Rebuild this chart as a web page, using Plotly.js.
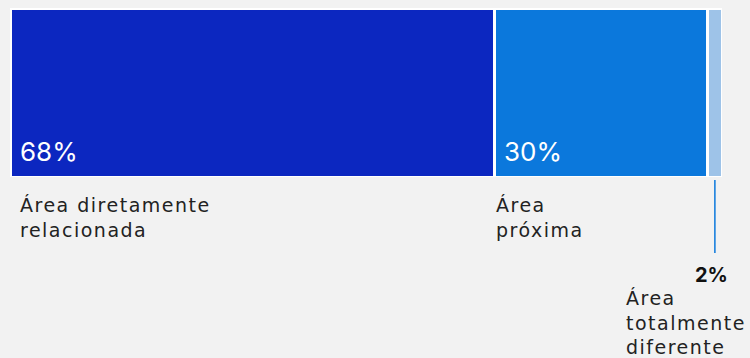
<!DOCTYPE html>
<html>
<head>
<meta charset="utf-8">
<script src="https://cdn.plot.ly/plotly-3.0.1.min.js"></script>
<style>
  html, body { margin: 0; padding: 0; background: #f2f2f2; }
  #chart { width: 750px; height: 358px; }
</style>
</head>
<body>
<div id="chart"></div>
<script>
const categories = ["Área diretamente relacionada", "Área próxima", "Área totalmente diferente"];
const labelLines = [["Área diretamente", "relacionada"], ["Área", "próxima"], ["Área", "totalmente", "diferente"]];
const values = [68, 30, 2];
const pctLabels = ["68%", "30%", "2%"];
const colors = ["#0c27c0", "#0b78dc", "#9ec3e8"];

const PCT_FONT = "Inter, 'Open Sans', sans-serif";
const LABEL_FONT = "'DejaVu Sans', Inter, sans-serif";

function spaced(lines) {
  return lines.map(l => '<span style="letter-spacing:1.5px">' + l + '</span>').join("<br>");
}

const starts = [];
let acc = 0;
values.forEach(v => { starts.push(acc); acc += v; });

const traces = values.map((v, i) => ({
  type: "bar",
  orientation: "h",
  y: ["share"],
  x: [v],
  name: categories[i],
  marker: { color: colors[i], line: { color: "#ffffff", width: 3 } },
  hoverinfo: "skip",
  showlegend: false
}));

const labelShift = [8, 0];
const annotations = [];
[0, 1].forEach(i => {
  annotations.push({
    x: starts[i], xref: "x", xanchor: "left", xshift: 8,
    y: 0, yref: "paper", yanchor: "bottom", yshift: 8,
    text: pctLabels[i], showarrow: false,
    font: { family: PCT_FONT, size: 26, color: "#ffffff" }
  });
  annotations.push({
    x: starts[i], xref: "x", xanchor: "left", xshift: labelShift[i],
    y: 0, yref: "paper", yanchor: "top", yshift: -15,
    text: spaced(labelLines[i]), showarrow: false, align: "left",
    font: { family: LABEL_FONT, size: 19, color: "#222222" }
  });
});
annotations.push({
  x: starts[2] + values[2], xref: "x", xanchor: "right", xshift: 8,
  y: 0, yref: "paper", yanchor: "top", yshift: -84,
  text: "<b>" + pctLabels[2] + "</b>", showarrow: false,
  font: { family: PCT_FONT, size: 20, color: "#111111" }
});
annotations.push({
  x: starts[2], xref: "x", xanchor: "left", xshift: -84,
  y: 0, yref: "paper", yanchor: "top", yshift: -108,
  text: spaced(labelLines[2]), showarrow: false, align: "left",
  font: { family: LABEL_FONT, size: 19, color: "#222222" }
});

const layout = {
  width: 750, height: 358,
  margin: { l: 9.5, r: 27.5, t: 8, b: 181, pad: 0 },
  paper_bgcolor: "#f2f2f2",
  plot_bgcolor: "#f2f2f2",
  barmode: "stack",
  bargap: 0,
  xaxis: { range: [0, 100], visible: false, fixedrange: true },
  yaxis: { range: [-0.5, 0.5], visible: false, fixedrange: true },
  annotations: annotations,
  shapes: [{
    type: "line", xref: "x", yref: "paper",
    x0: starts[2] + values[2] / 2, x1: starts[2] + values[2] / 2,
    y0: -0.018, y1: -0.45,
    line: { color: "#0b78dc", width: 1.5 }
  }]
};

Plotly.newPlot("chart", traces, layout, { displayModeBar: false, staticPlot: true });
</script>
</body>
</html>
